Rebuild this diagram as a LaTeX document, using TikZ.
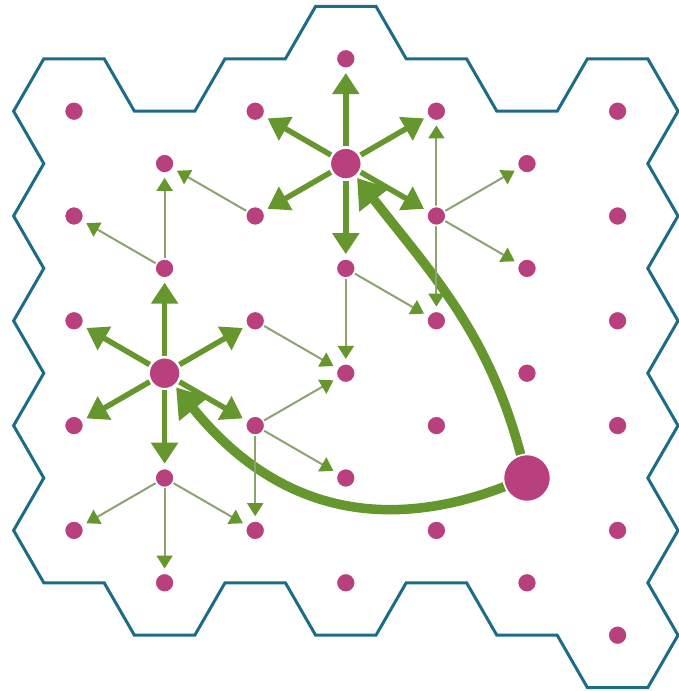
\documentclass[tikz,border=0pt]{standalone}
\usetikzlibrary{arrows.meta}
\definecolor{hexline}{RGB}{28,108,135}
\definecolor{dotc}{RGB}{184,64,124}
\definecolor{agreen}{RGB}{102,150,46}
\definecolor{tgray}{RGB}{140,162,112}
\pgfdeclarelayer{bg}
\pgfsetlayers{bg,main}
\begin{document}
\begin{tikzpicture}[x=30.2pt,y=-52.4pt,
  dot/.style={circle,fill=dotc,draw=white,line width=1.5pt,inner sep=0pt,minimum size=19pt},
  bigdot/.style={dot,minimum size=31pt},
  hugedot/.style={dot,minimum size=47pt},
  thickarrow/.style={draw=agreen,line width=5.5pt,-{Triangle[length=21pt,width=26pt]},shorten >=4pt,shorten <=1pt},
  thinarrow/.style={draw=tgray,line width=2pt,-{Triangle[length=13pt,width=16pt,color=agreen]},shorten >=4pt},
  arcarrow/.style={draw=agreen,line width=9.5pt,-{Triangle[length=28pt,width=36pt]},shorten >=2pt},
  hexoutline/.style={draw=hexline,line width=3pt,line join=miter}]
\useasboundingbox (-0.4503,-0.1221) rectangle (22.0,13.065);
% dots
\foreach \c/\ys in {0/{2,4,6,8,10},1/{3,5,7,9,11},2/{2,4,6,8,10},3/{1,3,5,7,9,11},4/{2,4,6,8,10},5/{3,5,7,9,11},6/{2,4,6,8,10,12}}{
  \foreach \r in \ys {\node[dot] (d\c-\r) at ({2+3*\c},\r) {};}
}
\node[bigdot] (d3-3) at (11,3) {};
\node[bigdot] (d1-7) at (5,7) {};
\node[hugedot] (d5-9) at (17,9) {};
\begin{pgfonlayer}{bg}
\draw[hexoutline] (1,1) -- (3,1) -- (4,2) -- (6,2) -- (7,1) -- (9,1) -- (10,0) -- (12,0) -- (13,1) -- (15,1) -- (16,2) -- (18,2) -- (19,1) -- (21,1) -- (22,2) -- (21,3) -- (22,4) -- (21,5) -- (22,6) -- (21,7) -- (22,8) -- (21,9) -- (22,10) -- (21,11) -- (22,12) -- (21,13) -- (19,13) -- (18,12) -- (16,12) -- (15,11) -- (13,11) -- (12,12) -- (10,12) -- (9,11) -- (7,11) -- (6,12) -- (4,12) -- (3,11) -- (1,11) -- (0,10) -- (1,9) -- (0,8) -- (1,7) -- (0,6) -- (1,5) -- (0,4) -- (1,3) -- (0,2) -- cycle;
\draw[arcarrow] (d5-9) to[out=105,in=-52] (d3-3);
\draw[arcarrow] (d5-9) .. controls +(201:149pt) and +(-51:181pt) .. (d1-7);
\foreach \t in {d3-1,d2-2,d4-2,d2-4,d4-4,d3-5} \draw[thickarrow] (d3-3) -- (\t);
\foreach \t in {d1-5,d0-6,d2-6,d0-8,d2-8,d1-9} \draw[thickarrow] (d1-7) -- (\t);
\foreach \a/\b in {d1-5/d1-3,d1-5/d0-4,d2-4/d1-3,d2-6/d3-7,d3-5/d4-6,d3-5/d3-7,d4-4/d4-2,d4-4/d5-3,d4-4/d5-5,d4-4/d4-6,d2-8/d3-7,d2-8/d3-9,d2-8/d2-10,d1-9/d0-10,d1-9/d2-10,d1-9/d1-11}
  \draw[thinarrow] (\a) -- (\b);
\end{pgfonlayer}
\end{tikzpicture}
\end{document}
